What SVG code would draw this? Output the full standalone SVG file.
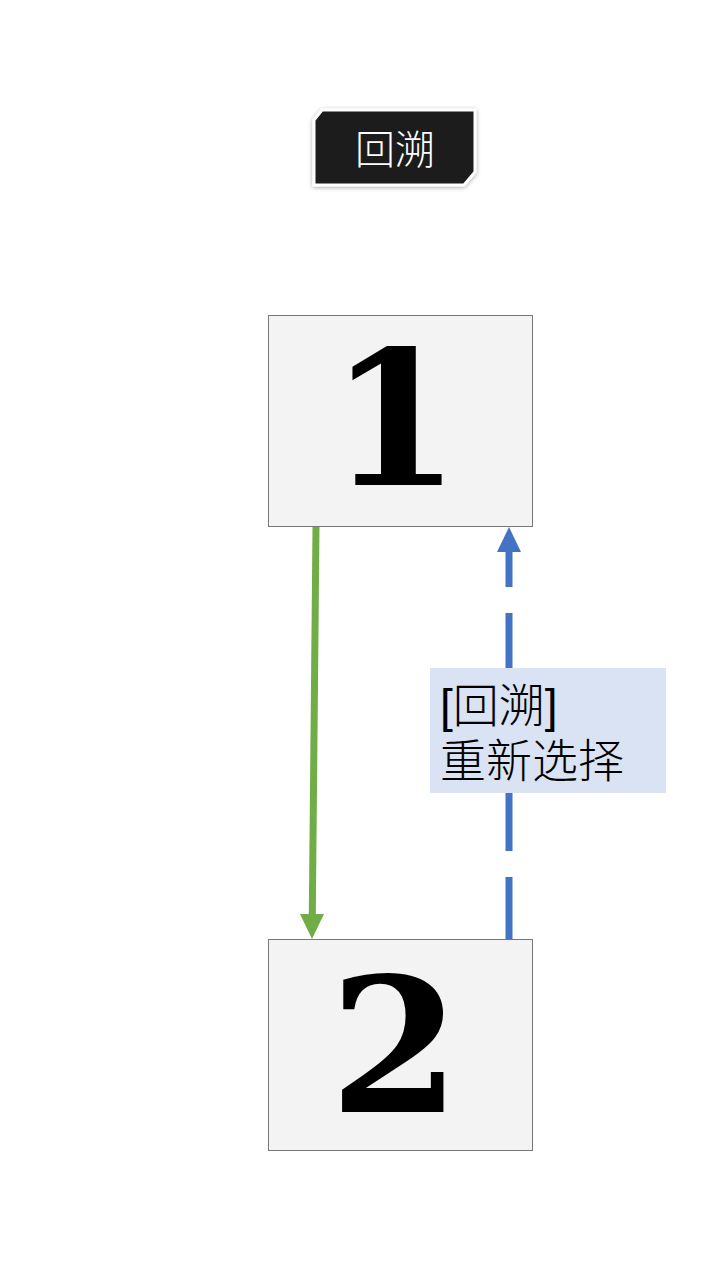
<svg xmlns="http://www.w3.org/2000/svg" width="720" height="1280" viewBox="0 0 720 1280">
<style>
.node{fill:#f3f3f3;stroke:#777;stroke-width:1}
.digit{font-family:"DejaVu Serif","Liberation Serif",serif;font-weight:bold;font-size:188px;fill:#000;text-anchor:middle}
.cjk{font-family:"Liberation Sans","Noto Sans CJK SC",sans-serif;font-weight:300}
</style>
<defs>
<filter id="sh" x="-20%" y="-20%" width="140%" height="140%">
<feDropShadow dx="0" dy="1" stdDeviation="2" flood-color="#000" flood-opacity="0.35"/>
</filter>
</defs>
<rect width="720" height="1280" fill="#fff"/>
<g id="title">
<polygon points="322,110 475,110 475,172 464,185 314,185 314,120" fill="#1a1a1a" stroke="#fff" stroke-width="3" filter="url(#sh)"/>
<text x="395" y="164" class="cjk" font-size="40" fill="#fff" text-anchor="middle">回溯</text>
</g>
<g id="connectors">
<line x1="316" y1="527" x2="312.3" y2="914" stroke="#70ad47" stroke-width="7"/>
<path d="M300,914 L324,914 L312,939 Z" fill="#70ad47"/>
<line x1="509" y1="939" x2="509" y2="552" stroke="#4472c4" stroke-width="7" stroke-dasharray="62,26"/>
<path d="M497,552 L521,552 L509,527 Z" fill="#4472c4"/>
<g id="edge-label">
<rect x="430" y="668" width="236" height="125" fill="#dae3f3"/>
<text class="cjk" font-size="46" fill="#000"><tspan x="440" y="722">[回溯]</tspan><tspan x="440" y="777">重新选择</tspan></text>
</g>
</g>
<g id="node1">
<rect x="268.5" y="315.5" width="264" height="211" class="node"/>
<text x="395" y="485" class="digit">1</text>
</g>
<g id="node2">
<rect x="268.5" y="939.5" width="264" height="211" class="node"/>
<text x="395" y="1112" class="digit">2</text>
</g>
</svg>
